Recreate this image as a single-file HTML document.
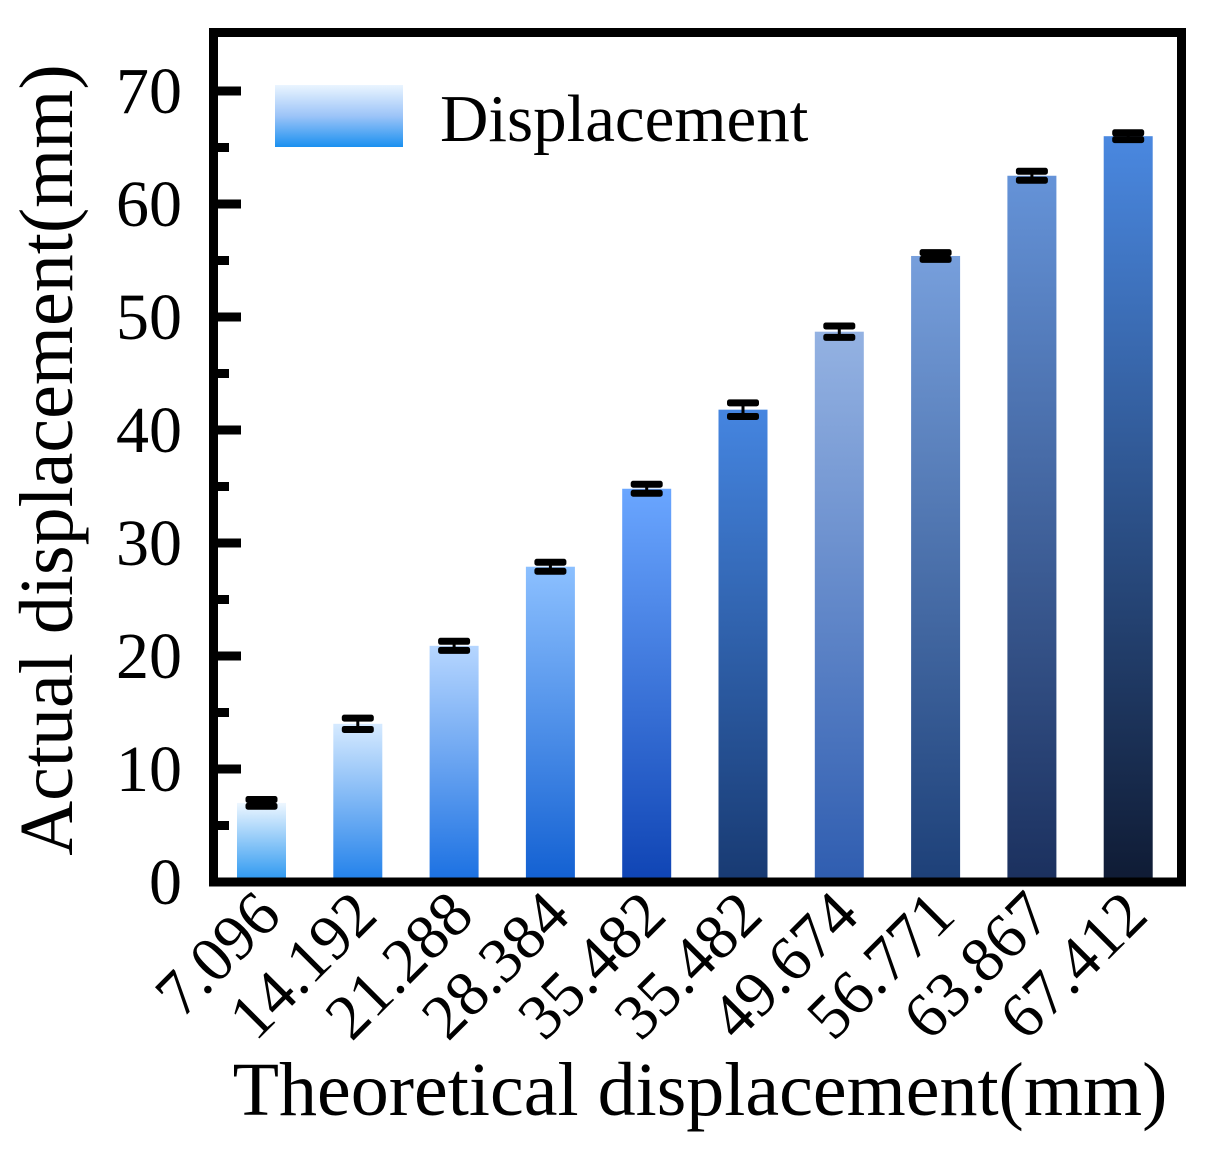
<!DOCTYPE html>
<html><head><meta charset="utf-8"><style>
body{margin:0;background:#fff}
svg text{font-family:"Liberation Serif",serif;fill:#000}
</style></head><body>
<svg id="chart" width="1209" height="1154" viewBox="0 0 1209 1154" xmlns="http://www.w3.org/2000/svg">
<defs id="defs">
<linearGradient id="leg" x1="0" y1="0" x2="0" y2="1"><stop offset="0" stop-color="#eaf5ff"/><stop offset="0.5" stop-color="#9cc4f8"/><stop offset="1" stop-color="#1a90f0"/></linearGradient>
</defs>
<g id="bars"></g>
<g id="axes"></g>
<g>
<rect x="275" y="85" width="128" height="62" fill="url(#leg)"/>
<text x="440" y="141" style="font-size:67px">Displacement</text>
</g>
<text transform="translate(72,460) rotate(-90)" text-anchor="middle" style="font-size:76px">Actual displacement(mm)</text>
<text x="700" y="1115" text-anchor="middle" style="font-size:76px">Theoretical displacement(mm)</text>
</svg>
<script>
const categories=["7.096","14.192","21.288","28.384","35.482","35.482","49.674","56.771","63.867","67.412"];
const values=[7.0,14.0,20.9,27.9,34.8,41.8,48.7,55.4,62.5,66.0];
const errors=[0.3,0.5,0.4,0.4,0.4,0.6,0.5,0.3,0.4,0.3];
const yTicks=[0,10,20,30,40,50,60,70];
const topColors=["#eef7ff","#d6eaff","#b6d6ff","#8cc0ff","#6aa6ff","#4585e0","#94b2e2","#779fdc","#6593d8","#4a88e0"];
const botColors=["#2896f0","#2080ea","#1a70e2","#1260d2","#0f44b4","#183a72","#2f5db0","#1d4078","#1b305e","#0f1b34"];
const NS="http://www.w3.org/2000/svg";
const X0=212,X1=1183,Y0=882,Y70=91;
function y(v){return Y0-(v/70)*(Y0-Y70);}
function xc(i){return 261.5+i*96.3;}
function mk(t,a,p){const e=document.createElementNS(NS,t);for(const k in a)e.setAttribute(k,a[k]);p.appendChild(e);return e;}
const defs=document.getElementById('defs'),bars=document.getElementById('bars'),axes=document.getElementById('axes');
values.forEach((v,i)=>{
 const g=mk('linearGradient',{id:'g'+i,x1:0,y1:0,x2:0,y2:1},defs);
 mk('stop',{offset:0,'stop-color':topColors[i]},g);mk('stop',{offset:1,'stop-color':botColors[i]},g);
 const r=mk('rect',{x:xc(i)-24.5,y:y(v),width:49,height:Y0-y(v),fill:'url(#g'+i+')'},bars);
 
 
 const e=errors[i];
 const c1=mk('rect',{x:xc(i)-16,y:y(v+e)-3.5,width:32,height:7,rx:2.5,fill:'#000'},bars);
 
 
 const c2=mk('rect',{x:xc(i)-16,y:y(v-e)-3.5,width:32,height:7,rx:2.5,fill:'#000'},bars);
 
 
 const l=mk('line',{x1:xc(i),x2:xc(i),y1:y(v+e),y2:y(v-e),stroke:'#000','stroke-width':3},bars);
 
 
 const t=mk('text',{transform:`translate(${xc(i)+22},${918}) rotate(-45)`,'text-anchor':'end',style:'font-size:64px'},axes);
 t.textContent=categories[i];
 
 
});
const fr=mk('rect',{x:X0+1.5,y:32.5,width:X1-X0-3,height:Y0-32.5,fill:'none',stroke:'#000','stroke-width':9},axes);


yTicks.forEach((v,i)=>{
 const tk=mk('line',{x1:X0,x2:X0+29,y1:y(v),y2:y(v),stroke:'#000','stroke-width':9},axes);
 
 
 if(i<yTicks.length-1){const mt=mk('line',{x1:X0,x2:X0+17,y1:y(v+5),y2:y(v+5),stroke:'#000','stroke-width':9},axes);
 
 }
 const t=mk('text',{x:182,y:y(v)+22,'text-anchor':'end',style:'font-size:66px'},axes);
 t.textContent=v;
 
 
});
</script>
</body></html>
